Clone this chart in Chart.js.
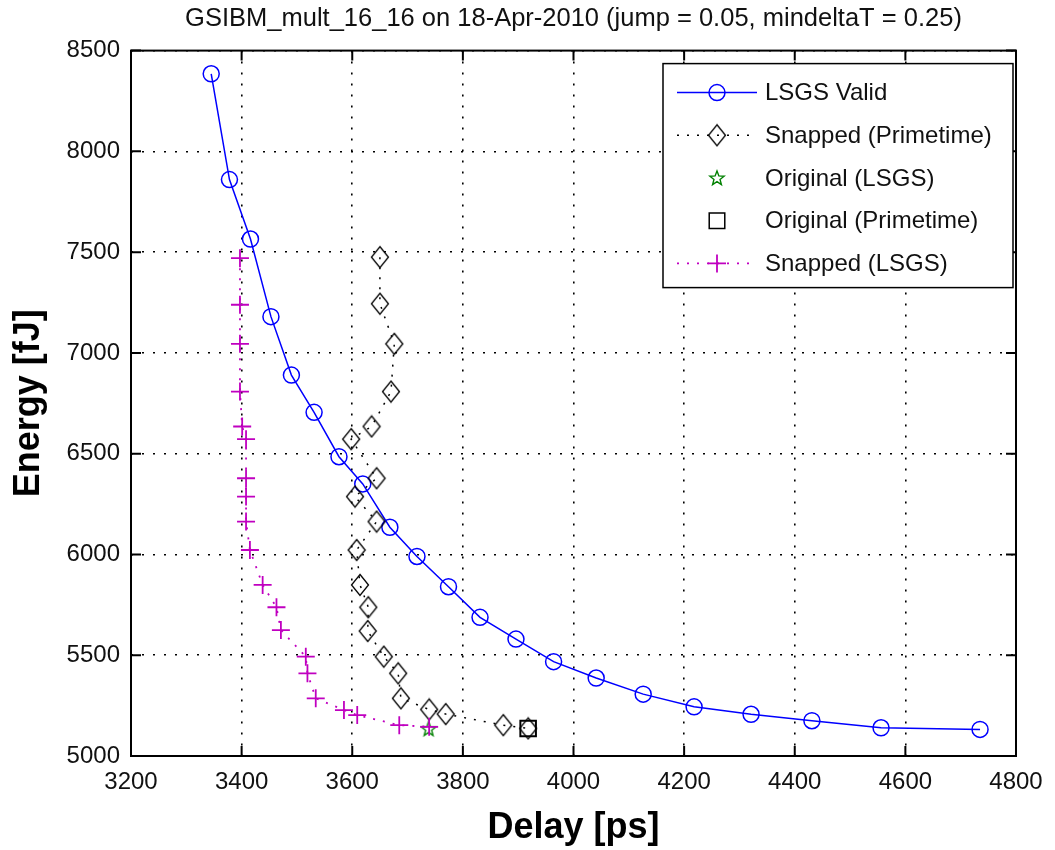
<!DOCTYPE html>
<html>
<head>
<meta charset="utf-8">
<script src="https://cdn.jsdelivr.net/npm/chart.js@4/dist/chart.umd.min.js"></script>
<style>
  body { margin: 0; background: #fff; }
  canvas { display: block; }
</style>
</head>
<body>
<canvas id="paretoChart" width="1055" height="850"></canvas>
<script>
const FONT = '"Liberation Sans", Arial, sans-serif';

// x ticks / y ticks
const xTicks = [3200, 3400, 3600, 3800, 4000, 4200, 4400, 4600, 4800];
const yTicks = [5000, 5500, 6000, 6500, 7000, 7500, 8000, 8500];

// LSGS Valid
const validDelay = [3345, 3378, 3416, 3453, 3490, 3531, 3576, 3619, 3668, 3717, 3774,
  3831, 3896, 3964, 4041, 4126, 4218, 4321, 4431, 4556, 4735];
const validEnergy = [8385, 7860, 7565, 7180, 6890, 6705, 6485, 6350, 6135, 5990, 5840,
  5688, 5580, 5468, 5387, 5307, 5244, 5207, 5175, 5140, 5132];

// Snapped (Primetime)
const ptDelay = [3650, 3650, 3676, 3670, 3635, 3598, 3644, 3605, 3644, 3608, 3614,
  3629, 3628, 3657, 3683, 3688, 3739, 3769, 3873, 3918];
const ptEnergy = [7475, 7244, 7045, 6808, 6635, 6572, 6378, 6287, 6163, 6022, 5849,
  5738, 5620, 5493, 5410, 5286, 5231, 5208, 5153, 5137];

// Original points
const origLsgsDelay = [3738];
const origLsgsEnergy = [5135];
const origPtDelay = [3918];
const origPtEnergy = [5136];

// Snapped (LSGS)
const lsgsDelay = [3397, 3397, 3397, 3397, 3401, 3408, 3408, 3408, 3408, 3415, 3438,
  3463, 3471, 3516, 3519, 3534, 3585, 3609, 3685, 3739];
const lsgsEnergy = [7470, 7239, 7045, 6808, 6635, 6572, 6378, 6287, 6163, 6022, 5849,
  5738, 5625, 5493, 5410, 5286, 5228, 5203, 5153, 5145];

const pts = (xs, ys) => xs.map((v, i) => ({ x: v, y: ys[i] }));

// tall matlab-ish diamond
function diamondMarker() {
  const c = document.createElement("canvas");
  c.width = 20; c.height = 24;
  const g = c.getContext("2d");
  g.strokeStyle = "#000";
  g.lineWidth = 1.3;
  g.beginPath();
  g.moveTo(10, 1.5); g.lineTo(18.5, 12); g.lineTo(10, 22.5); g.lineTo(1.5, 12);
  g.closePath();
  g.stroke();
  return c;
}

function pentagram() {
  const c = document.createElement("canvas");
  c.width = 18; c.height = 18;
  const g = c.getContext("2d");
  g.strokeStyle = "#008000";
  g.lineWidth = 1.4;
  g.beginPath();
  for (let i = 0; i < 10; i++) {
    const r = i % 2 ? 3.2 : 7.5;
    const a = -Math.PI / 2 + i * Math.PI / 5;
    const px = 9 + r * Math.cos(a), py = 9.5 + r * Math.sin(a);
    i ? g.lineTo(px, py) : g.moveTo(px, py);
  }
  g.closePath();
  g.stroke();
  return c;
}

const datasets = [
  {
    label: "LSGS Valid",
    data: pts(validDelay, validEnergy),
    showLine: true,
    borderColor: "#0000ff",
    borderWidth: 1.5,
    pointStyle: "circle",
    pointRadius: 8,
    pointBorderWidth: 1.5,
    pointBorderColor: "#0000ff",
    pointBackgroundColor: "rgba(0,0,0,0)",
    order: 5,
  },
  {
    label: "Snapped (Primetime)",
    data: pts(ptDelay, ptEnergy),
    showLine: true,
    borderColor: "#000",
    borderWidth: 1.5,
    borderDash: [2, 8],
    pointStyle: diamondMarker(),
    pointRadius: 10,
    order: 4,
  },
  {
    label: "Original (LSGS)",
    data: pts(origLsgsDelay, origLsgsEnergy),
    showLine: false,
    pointStyle: pentagram(),
    pointRadius: 8,
    order: 3,
  },
  {
    label: "Original (Primetime)",
    data: pts(origPtDelay, origPtEnergy),
    showLine: false,
    pointStyle: "rect",
    pointRadius: 11,
    pointBorderWidth: 2,
    pointBorderColor: "#000",
    pointBackgroundColor: "rgba(0,0,0,0)",
    order: 2,
  },
  {
    label: "Snapped (LSGS)",
    data: pts(lsgsDelay, lsgsEnergy),
    showLine: true,
    borderColor: "#c000c0",
    borderWidth: 1.8,
    borderDash: [2, 8],
    pointStyle: "cross",
    pointRadius: 9,
    pointBorderWidth: 1.8,
    pointBorderColor: "#c000c0",
    order: 1,
  },
];

// box with inward ticks + matlab style legend
const frame = {
  id: "frame",
  afterDraw(chart) {
    const { ctx, chartArea: a, scales } = chart;
    const x = scales.x, y = scales.y;
    ctx.save();
    ctx.strokeStyle = "#000";
    ctx.lineWidth = 2;
    ctx.strokeRect(a.left, a.top, a.right - a.left, a.bottom - a.top);
    ctx.beginPath();
    x.ticks.forEach((t) => {
      const px = x.getPixelForValue(t.value);
      ctx.moveTo(px, a.bottom); ctx.lineTo(px, a.bottom - 10);
      ctx.moveTo(px, a.top); ctx.lineTo(px, a.top + 10);
    });
    y.ticks.forEach((t) => {
      const py = y.getPixelForValue(t.value);
      ctx.moveTo(a.left, py); ctx.lineTo(a.left + 10, py);
      ctx.moveTo(a.right, py); ctx.lineTo(a.right - 10, py);
    });
    ctx.stroke();

    // legend
    const bw = 350, bh = 224;
    const bx = a.right - 3 - bw, by = a.top + 13;
    ctx.fillStyle = "#fff";
    ctx.fillRect(bx, by, bw, bh);
    ctx.lineWidth = 1.5;
    ctx.strokeRect(bx, by, bw, bh);
    ctx.font = "24px " + FONT;
    ctx.textBaseline = "middle";
    datasets.forEach((ds, i) => {
      const ry = by + 29 + i * 42.7;
      ctx.save();
      if (ds.showLine) {
        ctx.strokeStyle = ds.borderColor;
        ctx.lineWidth = ds.borderWidth;
        ctx.setLineDash(ds.borderDash || []);
        ctx.beginPath();
        ctx.moveTo(bx + 14, ry);
        ctx.lineTo(bx + 94, ry);
        ctx.stroke();
      }
      ctx.setLineDash([]);
      ctx.strokeStyle = ds.pointBorderColor || "#000";
      ctx.fillStyle = "rgba(0,0,0,0)";
      Chart.helpers.drawPoint(ctx, {
        pointStyle: ds.pointStyle,
        radius: ds.pointRadius,
        borderWidth: ds.pointBorderWidth || 1,
        rotation: 0,
      }, bx + 54, ry);
      ctx.restore();
      ctx.fillStyle = "#111";
      ctx.fillText(ds.label, bx + 102, ry + 1);
    });
    ctx.restore();
  },
};

const tickFont = { family: FONT, size: 24 };

new Chart(document.getElementById("paretoChart"), {
  type: "scatter",
  data: { datasets },
  plugins: [frame],
  options: {
    responsive: false,
    animation: false,
    events: [],
    layout: { padding: { left: 0, right: 39, top: 0, bottom: 0 } },
    plugins: {
      legend: { display: false },
      tooltip: { enabled: false },
      title: {
        display: true,
        fullSize: false,
        text: "GSIBM_mult_16_16 on 18-Apr-2010 (jump = 0.05, mindeltaT = 0.25)",
        color: "#111",
        font: { family: FONT, size: 25.5, weight: "normal" },
        padding: { top: 4, bottom: 16 },
      },
    },
    scales: {
      x: {
        type: "linear",
        min: xTicks[0],
        max: xTicks[xTicks.length - 1],
        afterBuildTicks: (s) => { s.ticks = xTicks.map((v) => ({ value: v })); },
        afterFit: (s) => { s.height = 94; },
        ticks: { font: tickFont, color: "#111", padding: 12, maxRotation: 0, callback: (v) => String(v) },
        grid: { color: "#000", lineWidth: 1.6, drawTicks: false },
        border: { display: false, dash: [2, 9] },
        title: {
          display: true,
          text: "Delay [ps]",
          color: "#000",
          font: { family: FONT, size: 36, weight: "bold" },
          padding: { top: 0, bottom: 0 },
        },
      },
      y: {
        type: "linear",
        min: yTicks[0],
        max: yTicks[yTicks.length - 1],
        afterBuildTicks: (s) => { s.ticks = yTicks.map((v) => ({ value: v })); },
        afterFit: (s) => { s.width = 131; },
        ticks: { font: tickFont, color: "#111", padding: 11, callback: (v) => String(v) },
        grid: { color: "#000", lineWidth: 1.6, drawTicks: false },
        border: { display: false, dash: [2, 9] },
        title: {
          display: true,
          text: "Energy [fJ]",
          color: "#000",
          font: { family: FONT, size: 36, weight: "bold" },
          padding: { top: 7, bottom: 0 },
        },
      },
    },
  },
});
</script>
</body>
</html>
